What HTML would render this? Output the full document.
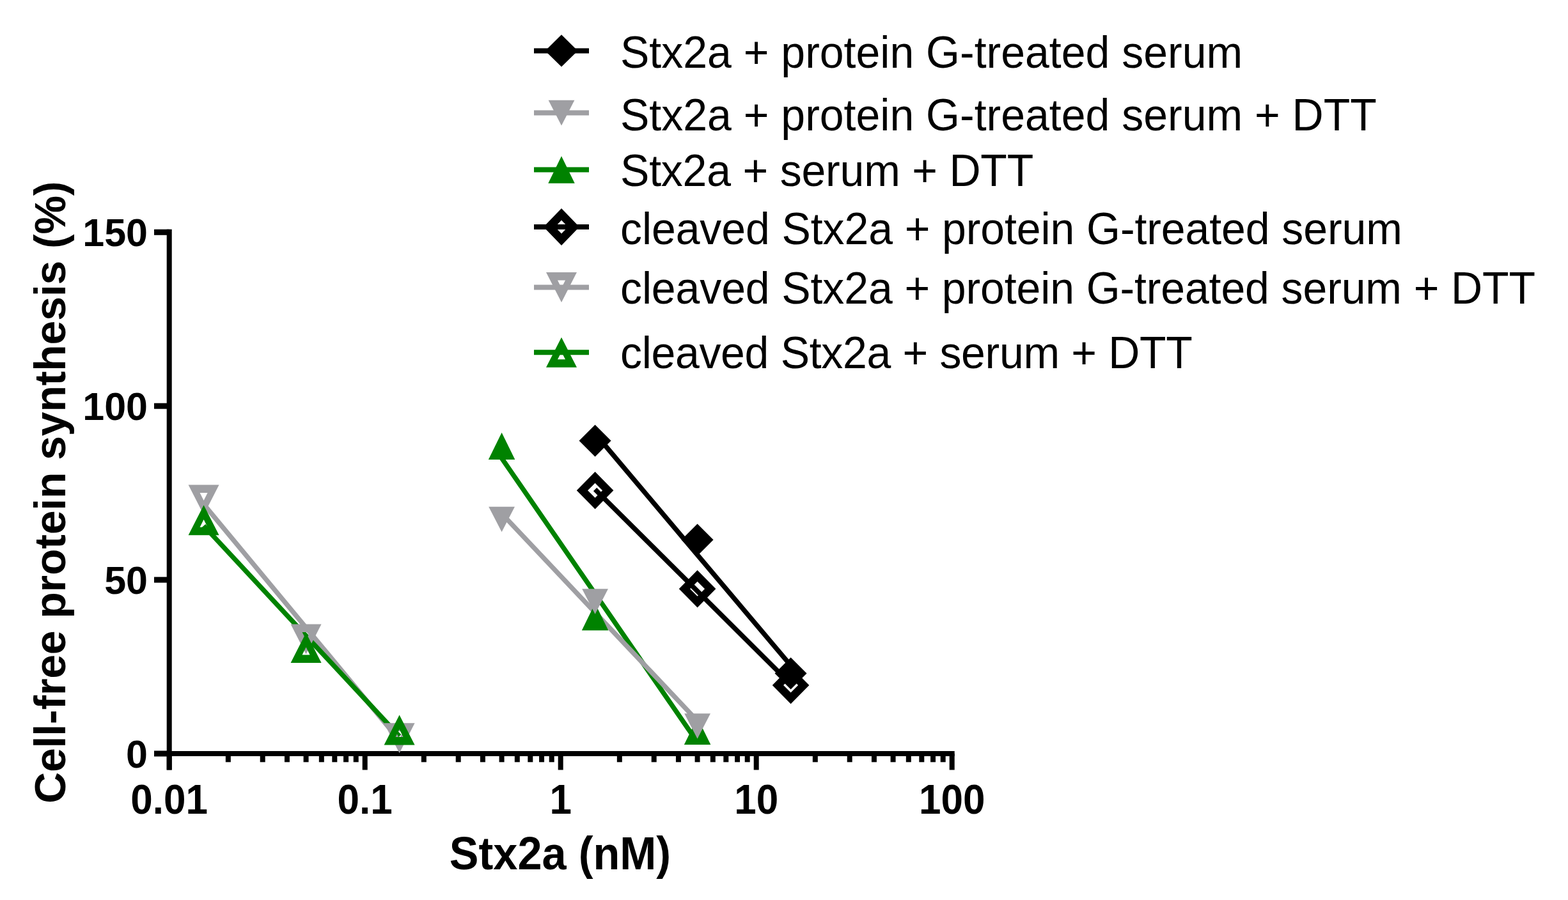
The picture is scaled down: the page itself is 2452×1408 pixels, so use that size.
<!DOCTYPE html>
<html><head><meta charset="utf-8"><title>Cell-free protein synthesis</title>
<style>html,body{margin:0;padding:0;background:#fff}svg{display:block}</style></head>
<body>
<svg width="2452" height="1408" viewBox="0 0 2452 1408">
<rect width="2452" height="1408" fill="#fff"/>
<g stroke="#000" stroke-width="8" stroke-linecap="butt"><line x1="264.7" y1="358.8" x2="264.7" y2="1204.5" /><line x1="241" y1="1179" x2="1492.7" y2="1179" /><line x1="241" y1="1179" x2="264.7" y2="1179" stroke-width="9"/><line x1="241" y1="907.1" x2="264.7" y2="907.1" stroke-width="9"/><line x1="241" y1="635.2" x2="264.7" y2="635.2" stroke-width="9"/><line x1="241" y1="363.3" x2="264.7" y2="363.3" stroke-width="9"/><line x1="264.7" y1="1179" x2="264.7" y2="1204.5" /><line x1="356.82" y1="1179" x2="356.82" y2="1192.3" /><line x1="410.7" y1="1179" x2="410.7" y2="1192.3" /><line x1="448.93" y1="1179" x2="448.93" y2="1192.3" /><line x1="478.58" y1="1179" x2="478.58" y2="1192.3" /><line x1="502.81" y1="1179" x2="502.81" y2="1192.3" /><line x1="523.3" y1="1179" x2="523.3" y2="1192.3" /><line x1="541.05" y1="1179" x2="541.05" y2="1192.3" /><line x1="556.7" y1="1179" x2="556.7" y2="1192.3" /><line x1="570.7" y1="1179" x2="570.7" y2="1204.5" /><line x1="662.82" y1="1179" x2="662.82" y2="1192.3" /><line x1="716.7" y1="1179" x2="716.7" y2="1192.3" /><line x1="754.93" y1="1179" x2="754.93" y2="1192.3" /><line x1="784.58" y1="1179" x2="784.58" y2="1192.3" /><line x1="808.81" y1="1179" x2="808.81" y2="1192.3" /><line x1="829.3" y1="1179" x2="829.3" y2="1192.3" /><line x1="847.05" y1="1179" x2="847.05" y2="1192.3" /><line x1="862.7" y1="1179" x2="862.7" y2="1192.3" /><line x1="876.7" y1="1179" x2="876.7" y2="1204.5" /><line x1="968.82" y1="1179" x2="968.82" y2="1192.3" /><line x1="1022.7" y1="1179" x2="1022.7" y2="1192.3" /><line x1="1060.93" y1="1179" x2="1060.93" y2="1192.3" /><line x1="1090.58" y1="1179" x2="1090.58" y2="1192.3" /><line x1="1114.81" y1="1179" x2="1114.81" y2="1192.3" /><line x1="1135.3" y1="1179" x2="1135.3" y2="1192.3" /><line x1="1153.05" y1="1179" x2="1153.05" y2="1192.3" /><line x1="1168.7" y1="1179" x2="1168.7" y2="1192.3" /><line x1="1182.7" y1="1179" x2="1182.7" y2="1204.5" /><line x1="1274.82" y1="1179" x2="1274.82" y2="1192.3" /><line x1="1328.7" y1="1179" x2="1328.7" y2="1192.3" /><line x1="1366.93" y1="1179" x2="1366.93" y2="1192.3" /><line x1="1396.58" y1="1179" x2="1396.58" y2="1192.3" /><line x1="1420.81" y1="1179" x2="1420.81" y2="1192.3" /><line x1="1441.3" y1="1179" x2="1441.3" y2="1192.3" /><line x1="1459.05" y1="1179" x2="1459.05" y2="1192.3" /><line x1="1474.7" y1="1179" x2="1474.7" y2="1192.3" /><line x1="1488.7" y1="1179" x2="1488.7" y2="1204.5" /></g>
<g><line x1="318.58" y1="788.8" x2="624.58" y2="1158" stroke="#9f9fa3" stroke-width="7.5"/><line x1="318.58" y1="822.57" x2="624.58" y2="1151.78" stroke="#008200" stroke-width="7.5"/><line x1="784.58" y1="716.78" x2="1090.58" y2="1161.17" stroke="#008200" stroke-width="7.5"/><line x1="784.58" y1="803.5" x2="1090.58" y2="1127.78" stroke="#9f9fa3" stroke-width="7.5"/><line x1="930.58" y1="765.61" x2="1236.58" y2="1070.15" stroke="#000" stroke-width="7.5"/><line x1="930.58" y1="678.27" x2="1236.58" y2="1041.19" stroke="#000" stroke-width="7.5"/></g>
<g><path d="M930.58,738.1 L959.38,767.3 L930.58,796.5 L901.78,767.3 Z M930.58,755.8 L942.08,767.3 L930.58,778.8 L919.08,767.3 Z" fill="#000" fill-rule="evenodd"/><path d="M1090.58,892.1 L1119.38,921.3 L1090.58,950.5 L1061.78,921.3 Z M1090.58,909.8 L1102.08,921.3 L1090.58,932.8 L1079.08,921.3 Z" fill="#000" fill-rule="evenodd"/><path d="M1236.58,1042.8 L1265.38,1072 L1236.58,1101.2 L1207.78,1072 Z M1236.58,1060.5 L1248.08,1072 L1236.58,1083.5 L1225.08,1072 Z" fill="#000" fill-rule="evenodd"/><path d="M318.58,805.5 L342.58,758.5 L294.58,758.5 Z M318.58,783 L324.58,771 L312.58,771 Z" fill="#9f9fa3" fill-rule="evenodd"/><path d="M478.58,1023.4 L502.58,976.4 L454.58,976.4 Z M478.58,1000.9 L484.58,988.9 L472.58,988.9 Z" fill="#9f9fa3" fill-rule="evenodd"/><path d="M624.58,1178.3 L648.58,1131.3 L600.58,1131.3 Z M624.58,1155.8 L630.58,1143.8 L618.58,1143.8 Z" fill="#9f9fa3" fill-rule="evenodd"/><path d="M318.58,790.15 L342.58,837.15 L294.58,837.15 Z M318.58,812.65 L324.58,824.65 L312.58,824.65 Z" fill="#008200" fill-rule="evenodd"/><path d="M478.58,989.9 L502.58,1036.9 L454.58,1036.9 Z M478.58,1012.4 L484.58,1024.4 L472.58,1024.4 Z" fill="#008200" fill-rule="evenodd"/><path d="M624.58,1118.5 L648.58,1165.5 L600.58,1165.5 Z M624.58,1141 L630.58,1153 L618.58,1153 Z" fill="#008200" fill-rule="evenodd"/><polygon points="784.58,676.65 805.33,719.05 763.83,719.05" fill="#008200"/><polygon points="930.58,943.8 951.33,986.2 909.83,986.2" fill="#008200"/><polygon points="1090.58,1122.7 1111.33,1165.1 1069.83,1165.1" fill="#008200"/><polygon points="784.58,832.3 804.98,792.7 764.18,792.7" fill="#9f9fa3"/><polygon points="930.58,960.8 950.98,921.2 910.18,921.2" fill="#9f9fa3"/><polygon points="1090.58,1155.8 1110.98,1116.2 1070.18,1116.2" fill="#9f9fa3"/><polygon points="930.58,664.5 955.58,689.5 930.58,714.5 905.58,689.5" fill="#000"/><polygon points="1090.58,819.5 1115.58,844.5 1090.58,869.5 1065.58,844.5" fill="#000"/><polygon points="1236.58,1028.5 1261.58,1053.5 1236.58,1078.5 1211.58,1053.5" fill="#000"/></g>
<g font-family="Liberation Sans, Arial, sans-serif" font-weight="bold" font-size="62" fill="#000"><text x="231" y="1201" font-size="61" text-anchor="end">0</text><text x="231" y="929.1" font-size="61" text-anchor="end">50</text><text x="231" y="657.2" font-size="61" text-anchor="end">100</text><text x="231" y="385.3" font-size="61" text-anchor="end">150</text><text transform="translate(264.7,1272.5) scale(1,1.04)" text-anchor="middle">0.01</text><text transform="translate(570.7,1272.5) scale(1,1.04)" text-anchor="middle">0.1</text><text transform="translate(876.7,1272.5) scale(1,1.04)" text-anchor="middle">1</text><text transform="translate(1182.7,1272.5) scale(1,1.04)" text-anchor="middle">10</text><text transform="translate(1488.7,1272.5) scale(1,1.04)" text-anchor="middle">100</text></g>
<text font-family="Liberation Sans, Arial, sans-serif" font-weight="bold" font-size="68.5" transform="translate(876,1360) scale(1,1.045)" text-anchor="middle">Stx2a (nM)</text>
<text font-family="Liberation Sans, Arial, sans-serif" font-weight="bold" font-size="68" transform="translate(102,770.3) rotate(-90)" text-anchor="middle" textLength="973.4" lengthAdjust="spacing">Cell-free protein synthesis (%)</text>
<g><line x1="835" y1="79.4" x2="921" y2="79.4" stroke="#000" stroke-width="8"/><polygon points="878,54.2 903.5,79.4 878,104.6 852.5,79.4" fill="#000"/><text font-family="Liberation Sans, Arial, sans-serif" font-size="68" transform="translate(970,105.7) scale(1,1.03)">Stx2a + protein G-treated serum</text><line x1="835" y1="176.6" x2="921" y2="176.6" stroke="#9f9fa3" stroke-width="8"/><polygon points="878,196.4 898.4,156.8 857.6,156.8" fill="#9f9fa3"/><text font-family="Liberation Sans, Arial, sans-serif" font-size="68" transform="translate(970,203.8) scale(1,1.03)">Stx2a + protein G-treated serum + DTT</text><line x1="835" y1="265.5" x2="921" y2="265.5" stroke="#008200" stroke-width="8"/><polygon points="878,244.3 898.75,286.7 857.25,286.7" fill="#008200"/><text font-family="Liberation Sans, Arial, sans-serif" font-size="68" transform="translate(970,291.4) scale(1,1.03)" textLength="646.2" lengthAdjust="spacing">Stx2a + serum + DTT</text><line x1="835" y1="355" x2="921" y2="355" stroke="#000" stroke-width="8"/><path d="M878,326 L906,355 L878,384 L850,355 Z M878,344.5 L888,355 L878,365.5 L868,355 Z" fill="#000" fill-rule="evenodd"/><text font-family="Liberation Sans, Arial, sans-serif" font-size="68" transform="translate(970,381.6) scale(1,1.03)" textLength="1222.8" lengthAdjust="spacing">cleaved Stx2a + protein G-treated serum</text><line x1="835" y1="449.5" x2="921" y2="449.5" stroke="#9f9fa3" stroke-width="8"/><path d="M878,473 L902,426 L854,426 Z M878,450.5 L884,438.5 L872,438.5 Z" fill="#9f9fa3" fill-rule="evenodd"/><text font-family="Liberation Sans, Arial, sans-serif" font-size="68" transform="translate(970,475) scale(1,1.03)" textLength="1431.0" lengthAdjust="spacing">cleaved Stx2a + protein G-treated serum + DTT</text><line x1="835" y1="551.3" x2="921" y2="551.3" stroke="#008200" stroke-width="8"/><path d="M878,527.8 L902,574.8 L854,574.8 Z M878,550.3 L884,562.3 L872,562.3 Z" fill="#008200" fill-rule="evenodd"/><text font-family="Liberation Sans, Arial, sans-serif" font-size="68" transform="translate(970,575.5) scale(1,1.03)" textLength="894.8" lengthAdjust="spacing">cleaved Stx2a + serum + DTT</text></g>
</svg>
</body></html>
